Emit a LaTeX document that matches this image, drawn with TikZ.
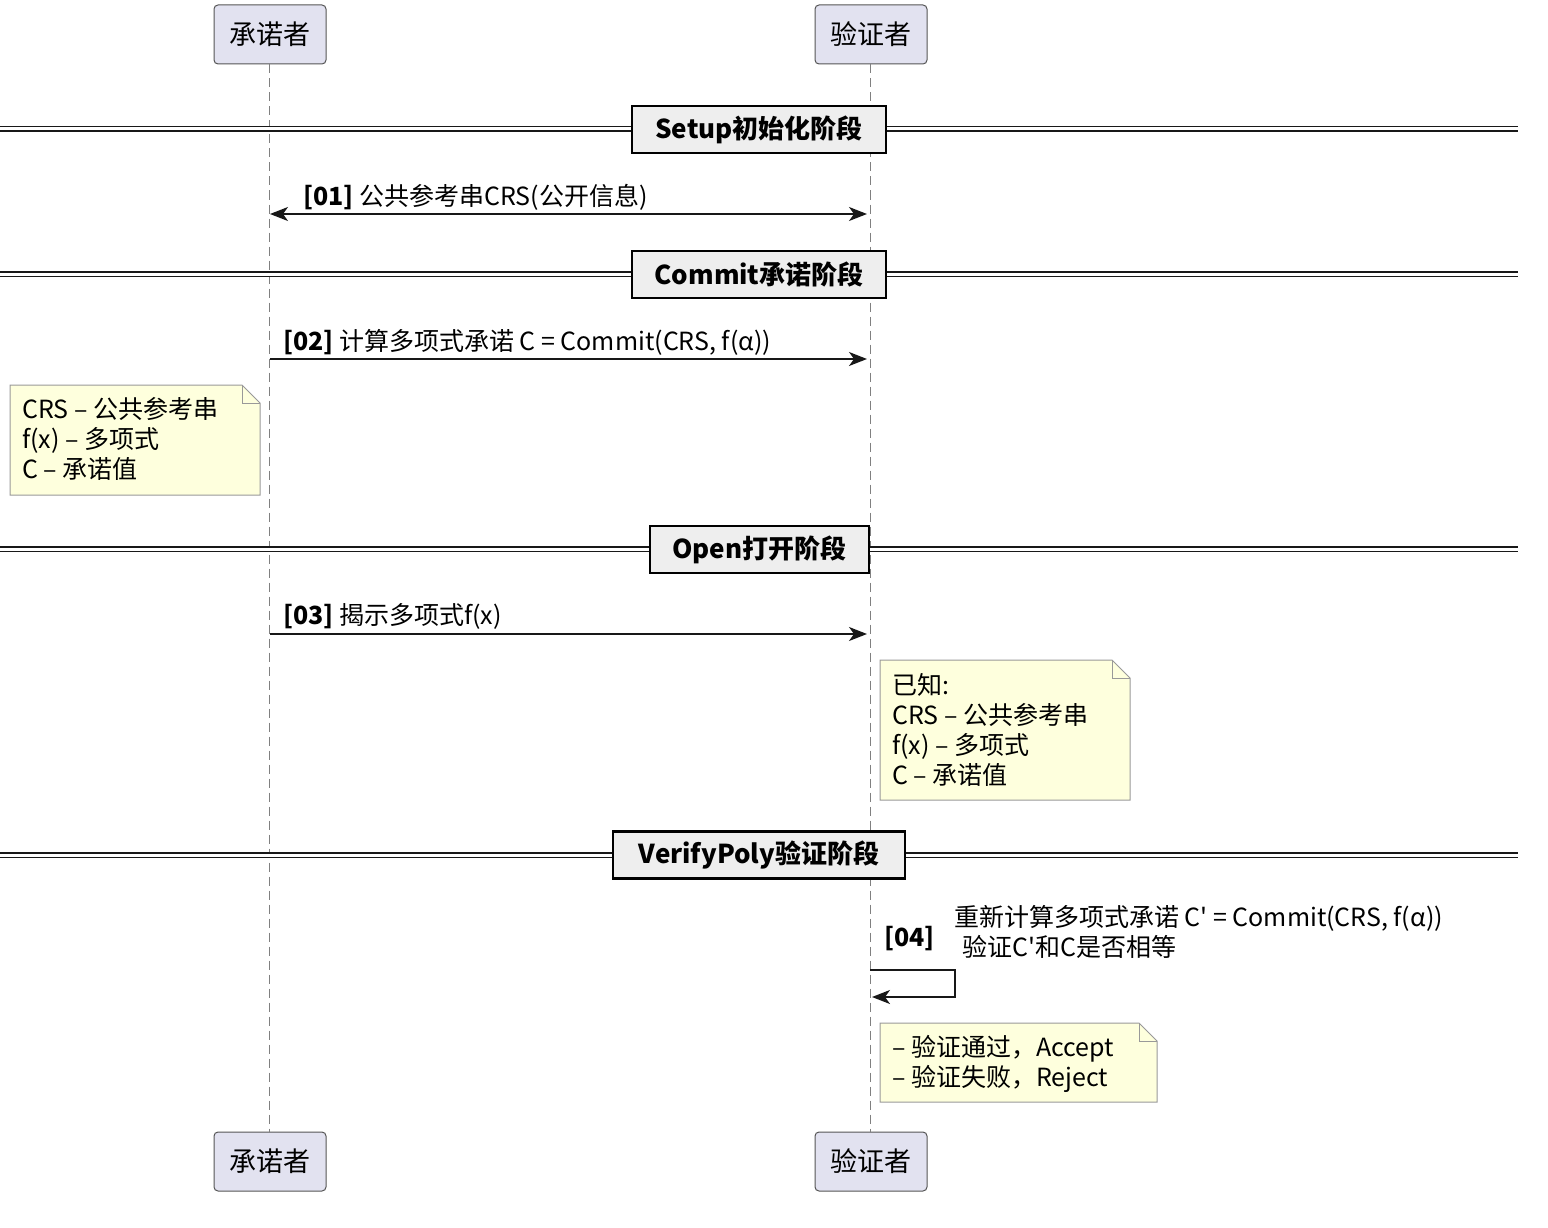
\documentclass[tikz,border=0pt]{standalone}
\usepackage{fontspec}
\setmainfont{Noto Sans CJK SC}[Ligatures=TeXOff]
\usetikzlibrary{positioning}
\usetikzlibrary{arrows.meta}

\definecolor{actorfill}{HTML}{E2E2F0}
\definecolor{actorline}{HTML}{555555}
\definecolor{notefill}{HTML}{FEFFDD}
\definecolor{noteline}{HTML}{999999}
\definecolor{phasefill}{HTML}{EEEEEE}
\definecolor{ink}{HTML}{181818}

\begin{document}
\begin{tikzpicture}[x=1pt,y=-1pt,>={Stealth[length=18pt,width=14pt,inset=5pt]},
                actor/.style={rectangle,rounded corners=4pt,draw=actorline,line width=1pt,
                  fill=actorfill,minimum width=112pt,minimum height=59pt,
                  font=\fontsize{27}{32}\selectfont},
                phase/.style={rectangle,draw=black,line width=2.5pt,fill=phasefill,
                  minimum height=47pt,font=\bfseries\fontsize{26}{30}\selectfont},
                divider/.style={double=white,double distance=3pt,line width=1.5pt,draw=ink},
                lifeline/.style={dash pattern=on 9pt off 5pt,draw=gray,line width=1pt},
                msg/.style={->,line width=1.5pt,draw=ink},
                msglabel/.style={anchor=base west,inner sep=0pt,font=\fontsize{25}{30}\selectfont},
                notebox/.style={draw=noteline,fill=notefill,line width=1pt},
                notetext/.style={anchor=north west,align=left,inner sep=0pt,
                  font=\fontsize{25}{30}\selectfont}]

  \useasboundingbox (0,0) rectangle (1548,1228);

  % participants
  \node[actor] (prover) at (270,34.5) {承诺者};
  \node[actor] (verifier) at (871,34.5) {验证者};
  \node[actor] (proverB) at (270,1161.5) {承诺者};
  \node[actor] (verifierB) at (871,1161.5) {验证者};

  \draw[lifeline] ([xshift=-1pt]prover.south) -- ([xshift=-1pt]proverB.north);
  \draw[lifeline] ([xshift=-1pt]verifier.south) -- ([xshift=-1pt]verifierB.north);

  % phases
  \coordinate (sL) at (0,129);   \coordinate (sR) at (1518,129);
  \coordinate (cL) at (0,274);   \coordinate (cR) at (1518,274);
  \coordinate (oL) at (0,549);   \coordinate (oR) at (1518,549);
  \coordinate (vL) at (0,855);   \coordinate (vR) at (1518,855);
  \draw[divider] (sL) -- (sR);
  \draw[divider] (cL) -- (cR);
  \draw[divider] (oL) -- (oR);
  \draw[divider] (vL) -- (vR);
  \node[phase,minimum width=254pt] (setup) at (759,129.5) {Setup初始化阶段};
  \node[phase,minimum width=254pt] (commit) at (759,274.5) {Commit承诺阶段};
  \node[phase,minimum width=219pt] (open) at (759.5,549.5) {Open打开阶段};
  \node[phase,minimum width=292pt] (verify) at (759,855) {VerifyPoly验证阶段};

  % messages
  \coordinate (p1) at (270,214);  \coordinate (v1) at (867,214);
  \coordinate (p2) at (270,359);  \coordinate (v2) at (867,359);
  \coordinate (p3) at (270,634);  \coordinate (v3) at (867,634);
  \coordinate (s4) at (870,970);  \coordinate (e4) at (872,997);

  \draw[msg,<->] (p1) -- (v1);
  \node[msglabel] (m1) at (303,205) {\textbf{[01]} 公共参考串CRS(公开信息)};

  \draw[msg] (p2) -- (v2);
  \node[msglabel] (m2) at (283,350) {\textbf{[02]} 计算多项式承诺 C = Commit(CRS, f(α))};

  \draw[msg] (p3) -- (v3);
  \node[msglabel] (m3) at (283,624) {\textbf{[03]} 揭示多项式f(x)};

  \draw[msg] (s4) -- (955,970) -- (955,997) -- (e4);
  \node[msglabel] (m4) at (884,946) {\textbf{[04]}};
  \node[notetext] (m4text) at (954,905) {重新计算多项式承诺 C' = Commit(CRS, f(α))\\
    \hspace{8pt}验证C'和C是否相等};

  % notes
  \draw[notebox] (10,385) -- (242,385) -- (260,403) -- (260,495) -- (10,495) -- cycle;
  \draw[noteline,line width=1pt] (242,385) -- (242,403) -- (260,403);
  \node[notetext] (crsnote) at (22,397) {CRS – 公共参考串\\f(x) – 多项式\\C – 承诺值};

  \draw[notebox] (880,660) -- (1112,660) -- (1130,678) -- (1130,800) -- (880,800) -- cycle;
  \draw[noteline,line width=1pt] (1112,660) -- (1112,678) -- (1130,678);
  \node[notetext] (knownnote) at (892,673) {已知:\\CRS – 公共参考串\\f(x) – 多项式\\C – 承诺值};

  \draw[notebox] (880,1023) -- (1139,1023) -- (1157,1041) -- (1157,1102) -- (880,1102) -- cycle;
  \draw[noteline,line width=1pt] (1139,1023) -- (1139,1041) -- (1157,1041);
  \node[notetext] (resultnote) at (892,1035) {– 验证通过，Accept\\– 验证失败，Reject};
\end{tikzpicture}
\end{document}
